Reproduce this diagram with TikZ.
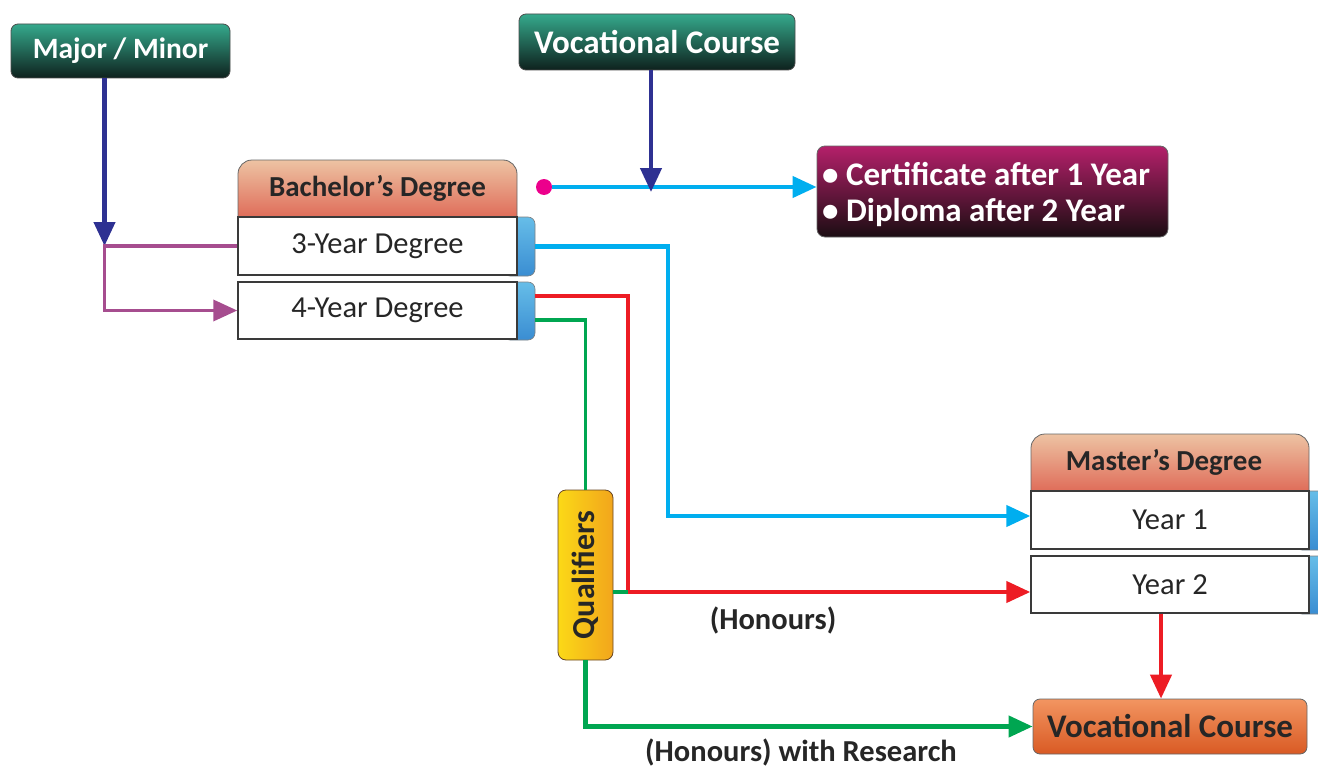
\documentclass[tikz,border=0pt]{standalone}
\usepackage{fontspec}
\setmainfont{Carlito}
\usetikzlibrary{arrows.meta}

\definecolor{tealtop}{HTML}{35A98C}
\definecolor{tealbot}{HTML}{0E211D}
\definecolor{headtop}{HTML}{EDC3A3}
\definecolor{headbot}{HTML}{DF6B58}
\definecolor{tabtop}{HTML}{66BDE8}
\definecolor{tabbot}{HTML}{3A8DD2}
\definecolor{certtop}{HTML}{B4206A}
\definecolor{certbot}{HTML}{1B0D12}
\definecolor{qualleft}{HTML}{FBD917}
\definecolor{qualright}{HTML}{F2A51C}
\definecolor{voctop}{HTML}{F29561}
\definecolor{vocbot}{HTML}{D95A24}
\definecolor{navyline}{HTML}{2E3192}
\definecolor{plumline}{HTML}{A64D8F}
\definecolor{cyanline}{HTML}{00AEEF}
\definecolor{redline}{HTML}{ED1C24}
\definecolor{greenline}{HTML}{00A651}
\definecolor{dotpink}{HTML}{EC008C}
\definecolor{boxedge}{HTML}{3A3A3A}

\tikzset{
  darkbox/.style={draw=black!70, line width=0.8pt, rounded corners=7pt,
    top color=tealtop, bottom color=tealbot, text=white, inner sep=0pt,
    font=\bfseries\fontsize{29.5}{32}\selectfont},
  header/.style={draw=black!60, line width=0.8pt, top color=headtop, bottom color=headbot},
  headtext/.style={text=black!85, inner sep=0pt, font=\bfseries\fontsize{29}{32}\selectfont},
  yearbox/.style={draw=boxedge, line width=1.4pt, fill=white, inner sep=0pt,
    text=black!85, font=\fontsize{30.5}{33}\selectfont},
  tabbox/.style={draw=black!50, line width=0.6pt, rounded corners=7pt,
    top color=tabtop, bottom color=tabbot, inner sep=0pt},
  link/.style={line width=4.3pt},
  tip/.style={-{Triangle[length=24pt,width=21pt]}},
  notetext/.style={text=black!85, inner sep=0pt, font=\bfseries\fontsize{30.5}{33}\selectfont}
}

\begin{document}
\begin{tikzpicture}[x=1pt,y=-1pt]
    \useasboundingbox (0,0) rectangle (1318,768);
    \clip (0,0) rectangle (1318,768);

    % top boxes
    \node[darkbox, minimum width=219pt, minimum height=54pt] (mm) at (120.5,51) {Major / Minor};
    \node[darkbox, minimum width=276pt, minimum height=56pt, font=\bfseries\fontsize{33}{36}\selectfont] (voct) at (657,42) {Vocational Course};

    % bachelor block
    \path[header] (238,218) [rounded corners=14pt]-- (238,160) -- (517,160) [sharp corners]-- (517,218) -- cycle;
    \node[headtext] (bachtxt) at (377.5,188) {Bachelor's Degree};
    \node[tabbox, minimum width=32pt, minimum height=59pt] (threetab) at (519,246.5) {};
    \node[yearbox, minimum width=279pt, minimum height=58pt] (three) at (377.5,246) {3-Year Degree};
    \node[tabbox, minimum width=32pt, minimum height=58pt] (fourtab) at (519,311) {};
    \node[yearbox, minimum width=279pt, minimum height=57pt] (four) at (377.5,310.5) {4-Year Degree};

    % certificate
    \node[circle, fill=dotpink, inner sep=0pt, minimum size=16pt] (dot) at (544,187) {};
    \node[draw=black!60, line width=0.8pt, rounded corners=8pt, top color=certtop, bottom color=certbot,
          minimum width=351pt, minimum height=91pt] (cert) at (992.5,191.5) {};
    \node[text=white, align=left, anchor=west, inner sep=0pt,
          font=\bfseries\fontsize{33}{36}\selectfont] (certtxt) at (822,194) {• Certificate after 1 Year\\• Diploma after 2 Year};

    % master block
    \path[header] (1031,492) [rounded corners=14pt]-- (1031,434) -- (1309,434) [sharp corners]-- (1309,492) -- cycle;
    \node[headtext] (masttxt) at (1164,462) {Master's Degree};
    \node[tabbox, minimum width=32pt, minimum height=59pt] (onetab) at (1311,520.5) {};
    \node[yearbox, minimum width=278pt, minimum height=58pt] (yearone) at (1170,520) {Year 1};
    \node[tabbox, minimum width=32pt, minimum height=58pt] (twotab) at (1311,585) {};
    \node[yearbox, minimum width=278pt, minimum height=57pt] (yeartwo) at (1170,584.5) {Year 2};

    \node[draw=black!60, line width=0.8pt, rounded corners=7pt, top color=voctop, bottom color=vocbot,
          text=black!85, inner sep=0pt, minimum width=274pt, minimum height=55pt,
          font=\bfseries\fontsize{33}{36}\selectfont] (vocb) at (1170,726.5) {Vocational Course};

    % qualifiers
    \node[draw=black!45!brown, line width=0.8pt, rounded corners=8pt, left color=qualleft, right color=qualright,
          text=black!85, inner sep=0pt, minimum width=55pt, minimum height=170pt,
          font=\bfseries\fontsize{32}{34}\selectfont] (qual) at (585.5,575) {\rotatebox{90}{Qualifiers}};

    \node[notetext] (hon) at (773,620) {(Honours)};
    \node[notetext] (honres) at (801,752) {(Honours) with Research};

    \coordinate (redturn) at (628,592);

    % connectors
    \draw[link, navyline, tip] ([xshift=-16pt]mm.south) -- ([xshift=-16pt]mm.south |- three.west);
    \draw[link, plumline, line width=3.6pt, tip] (three.west) -- ([xshift=-16pt]mm.south |- three.west) |- (four.west);
    \draw[link, cyanline, tip] (dot) -- (dot -| cert.west);
    \draw[link, navyline, tip] ([xshift=-6pt]voct.south) -- ([xshift=-6pt,yshift=-5pt]voct.south |- dot);
    \draw[link, cyanline, tip] (threetab.east) -- ++(133,0) |- ([yshift=4pt]yearone.west);
    \draw[link, redline] ([yshift=15pt]fourtab.east) -| (redturn);
    \draw[link, redline, tip] (redturn) -- (redturn -| yeartwo.west);
    \draw[link, greenline, line width=3.6pt] ([yshift=-9pt]fourtab.east) -| (qual.north);
    \draw[link, greenline, line width=3.6pt] (redturn -| qual.east) -- (redturn);
    \draw[link, greenline, tip] (qual.south) |- (vocb.west);
    \draw[link, redline, tip] ([xshift=-9pt]yeartwo.south) -- ([xshift=-9pt]vocb.north);
\end{tikzpicture}
\end{document}
